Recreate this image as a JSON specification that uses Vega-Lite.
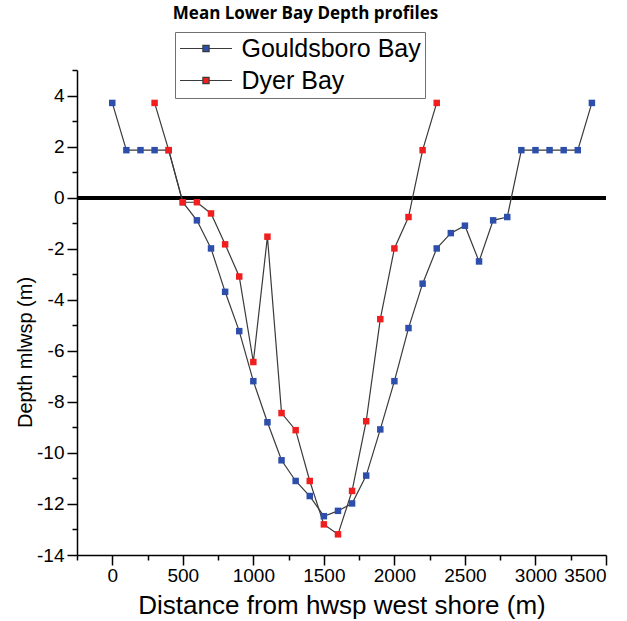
{
  "$schema": "https://vega.github.io/schema/vega-lite/v6.json",
  "width": 529,
  "height": 485,
  "autosize": {"type": "none"},
  "padding": {"left": 77, "top": 70, "right": 21, "bottom": 66},
  "background": "white",
  "title": {
    "text": "Mean Lower Bay Depth profiles",
    "font": "Open Sans",
    "fontSize": 17,
    "fontWeight": "bold",
    "color": "black",
    "anchor": "middle",
    "frame": "group",
    "dx": -36,
    "offset": 9
  },
  "config": {
    "view": {"stroke": null},
    "axis": {
      "grid": false,
      "domainColor": "black",
      "domainWidth": 1.5,
      "tickColor": "black",
      "tickWidth": 1.5,
      "labelColor": "black",
      "labelFont": "Liberation Sans",
      "labelFontSize": 19,
      "titleFont": "Liberation Sans",
      "titleFontWeight": "normal",
      "titleColor": "black"
    }
  },
  "data": {
    "values": [
      {"bay": "Gouldsboro Bay", "distance": 0, "depth": 3.71},
      {"bay": "Gouldsboro Bay", "distance": 100, "depth": 1.86},
      {"bay": "Gouldsboro Bay", "distance": 200, "depth": 1.86},
      {"bay": "Gouldsboro Bay", "distance": 300, "depth": 1.86},
      {"bay": "Gouldsboro Bay", "distance": 400, "depth": 1.86},
      {"bay": "Gouldsboro Bay", "distance": 500, "depth": -0.18},
      {"bay": "Gouldsboro Bay", "distance": 600, "depth": -0.89},
      {"bay": "Gouldsboro Bay", "distance": 700, "depth": -1.99},
      {"bay": "Gouldsboro Bay", "distance": 800, "depth": -3.69},
      {"bay": "Gouldsboro Bay", "distance": 900, "depth": -5.23},
      {"bay": "Gouldsboro Bay", "distance": 1000, "depth": -7.19},
      {"bay": "Gouldsboro Bay", "distance": 1100, "depth": -8.8},
      {"bay": "Gouldsboro Bay", "distance": 1200, "depth": -10.29},
      {"bay": "Gouldsboro Bay", "distance": 1300, "depth": -11.1},
      {"bay": "Gouldsboro Bay", "distance": 1400, "depth": -11.69},
      {"bay": "Gouldsboro Bay", "distance": 1500, "depth": -12.48},
      {"bay": "Gouldsboro Bay", "distance": 1600, "depth": -12.27},
      {"bay": "Gouldsboro Bay", "distance": 1700, "depth": -11.98},
      {"bay": "Gouldsboro Bay", "distance": 1800, "depth": -10.89},
      {"bay": "Gouldsboro Bay", "distance": 1900, "depth": -9.08},
      {"bay": "Gouldsboro Bay", "distance": 2000, "depth": -7.19},
      {"bay": "Gouldsboro Bay", "distance": 2100, "depth": -5.11},
      {"bay": "Gouldsboro Bay", "distance": 2200, "depth": -3.37},
      {"bay": "Gouldsboro Bay", "distance": 2300, "depth": -1.99},
      {"bay": "Gouldsboro Bay", "distance": 2400, "depth": -1.39},
      {"bay": "Gouldsboro Bay", "distance": 2500, "depth": -1.1},
      {"bay": "Gouldsboro Bay", "distance": 2600, "depth": -2.5},
      {"bay": "Gouldsboro Bay", "distance": 2700, "depth": -0.89},
      {"bay": "Gouldsboro Bay", "distance": 2800, "depth": -0.76},
      {"bay": "Gouldsboro Bay", "distance": 2900, "depth": 1.86},
      {"bay": "Gouldsboro Bay", "distance": 3000, "depth": 1.86},
      {"bay": "Gouldsboro Bay", "distance": 3100, "depth": 1.86},
      {"bay": "Gouldsboro Bay", "distance": 3200, "depth": 1.86},
      {"bay": "Gouldsboro Bay", "distance": 3300, "depth": 1.86},
      {"bay": "Gouldsboro Bay", "distance": 3400, "depth": 3.71},
      {"bay": "Dyer Bay", "distance": 300, "depth": 3.71},
      {"bay": "Dyer Bay", "distance": 400, "depth": 1.86},
      {"bay": "Dyer Bay", "distance": 500, "depth": -0.18},
      {"bay": "Dyer Bay", "distance": 600, "depth": -0.18},
      {"bay": "Dyer Bay", "distance": 700, "depth": -0.62},
      {"bay": "Dyer Bay", "distance": 800, "depth": -1.83},
      {"bay": "Dyer Bay", "distance": 900, "depth": -3.09},
      {"bay": "Dyer Bay", "distance": 1000, "depth": -6.44},
      {"bay": "Dyer Bay", "distance": 1100, "depth": -1.53},
      {"bay": "Dyer Bay", "distance": 1200, "depth": -8.44},
      {"bay": "Dyer Bay", "distance": 1300, "depth": -9.11},
      {"bay": "Dyer Bay", "distance": 1400, "depth": -11.1},
      {"bay": "Dyer Bay", "distance": 1500, "depth": -12.8},
      {"bay": "Dyer Bay", "distance": 1600, "depth": -13.19},
      {"bay": "Dyer Bay", "distance": 1700, "depth": -11.49},
      {"bay": "Dyer Bay", "distance": 1800, "depth": -8.76},
      {"bay": "Dyer Bay", "distance": 1900, "depth": -4.76},
      {"bay": "Dyer Bay", "distance": 2000, "depth": -1.99},
      {"bay": "Dyer Bay", "distance": 2100, "depth": -0.76},
      {"bay": "Dyer Bay", "distance": 2200, "depth": 1.86},
      {"bay": "Dyer Bay", "distance": 2300, "depth": 3.71}
    ]
  },
  "resolve": {"axis": {"x": "independent", "y": "independent"}},
  "layer": [
    {
      "mark": {"type": "point", "opacity": 0},
      "encoding": {
        "x": {
          "field": "distance", "type": "quantitative",
          "scale": {"domain": [-250, 3500], "nice": false, "zero": false},
          "axis": {
            "orient": "bottom",
            "values": [-250, 250, 750, 1250, 1750, 2250, 2750, 3250],
            "labels": false, "domain": false, "tickSize": 5, "title": null
          }
        },
        "y": {
          "field": "depth", "type": "quantitative",
          "scale": {"domain": [-14, 5], "nice": false, "zero": false},
          "axis": {
            "orient": "left",
            "values": [-13, -11, -9, -7, -5, -3, -1, 1, 3, 5],
            "labels": false, "domain": false, "tickSize": 5, "title": null
          }
        }
      }
    },
    {
      "mark": {"type": "rule", "color": "black", "strokeWidth": 3},
      "encoding": {
        "y": {"datum": 0, "type": "quantitative", "axis": null}
      }
    },
    {
      "mark": {"type": "line", "color": "#3a3a3a", "strokeWidth": 1.2},
      "encoding": {
        "x": {
          "field": "distance", "type": "quantitative",
          "axis": {
            "orient": "bottom",
            "values": [0, 500, 1000, 1500, 2000, 2500, 3000, 3500],
            "format": "d",
            "tickSize": 10, "labelPadding": 1,
            "title": "Distance from hwsp west shore  (m)",
            "titleFontSize": 26, "titlePadding": 7
          }
        },
        "y": {
          "field": "depth", "type": "quantitative",
          "axis": {
            "orient": "left",
            "values": [-14, -12, -10, -8, -6, -4, -2, 0, 2, 4],
            "labelExpr": "datum.value < 0 ? '-' + abs(datum.value) : '' + datum.value",
            "tickSize": 10, "labelPadding": 3,
            "title": "Depth mlwsp (m)",
            "titleFontSize": 20,
            "titleX": -42, "titleY": 282
          }
        },
        "detail": {"field": "bay"}
      }
    },
    {
      "mark": {"type": "square", "size": 42, "opacity": 1, "filled": true},
      "encoding": {
        "x": {"field": "distance", "type": "quantitative", "axis": null},
        "y": {"field": "depth", "type": "quantitative", "axis": null},
        "fill": {
          "field": "bay", "type": "nominal",
          "scale": {"domain": ["Gouldsboro Bay", "Dyer Bay"], "range": ["#2D4EAB", "#F01E1E"]},
          "legend": {
            "title": null,
            "orient": "none",
            "legendX": 98,
            "legendY": -38,
            "symbolType": "M-5.2,0H-0.62M0.62,0H5.2M-0.62,-0.62H0.62V0.62H-0.62Z",
            "symbolSize": 100,
            "symbolOffset": 14.5,
            "symbolStrokeColor": "#3a3a3a",
            "symbolStrokeWidth": 1.2,
            "symbolOpacity": 1,
            "labelFont": "Liberation Sans",
            "labelFontSize": 25,
            "labelColor": "black",
            "labelOffset": 23,
            "labelLimit": 400,
            "strokeColor": "#707070",
            "fillColor": "white",
            "padding": 4,
            "rowPadding": 6
          }
        }
      }
    }
  ]
}
